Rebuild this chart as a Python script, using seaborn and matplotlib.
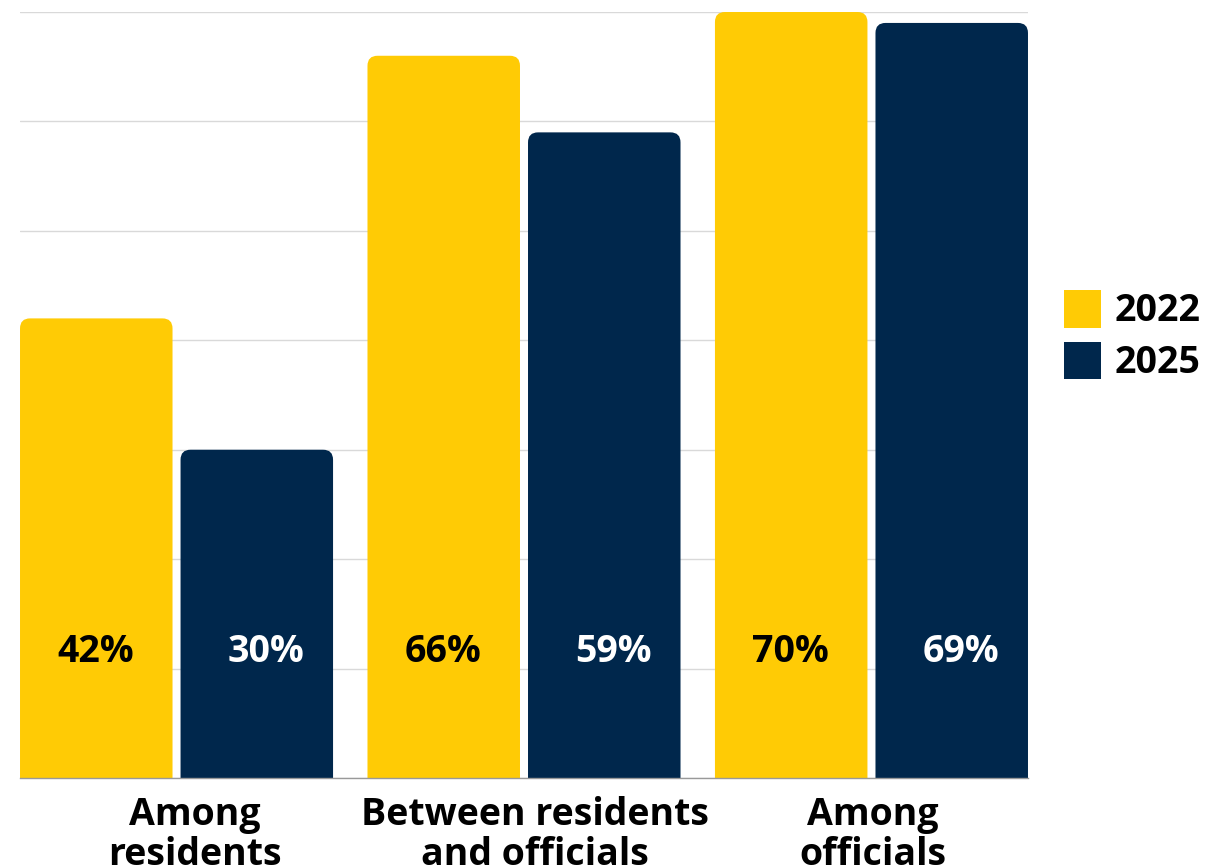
import matplotlib
matplotlib.use("Agg")
import matplotlib.pyplot as plt
import seaborn as sns
import pandas as pd
from matplotlib.patches import FancyBboxPatch, Patch

categories = ["Among\nresidents", "Between residents\nand officials", "Among\nofficials"]
years = ["2022", "2025"]
values_2022 = [42, 66, 70]
values_2025 = [30, 59, 69]
colors = ["#FFCB05", "#00274C"]
label_colors = ["black", "white"]

df = pd.DataFrame({
    "category": categories * 2,
    "year": [years[0]] * 3 + [years[1]] * 3,
    "value": values_2022 + values_2025,
})

sns.set_theme(style="white")
plt.rcParams["font.family"] = ["Open Sans", "DejaVu Sans"]
plt.rcParams["text.color"] = "black"

FS = 27
W, H = 1207, 865
fig = plt.figure(figsize=(W / 100, H / 100), dpi=100)
ax = fig.add_axes([20 / W, 87 / H, 1008 / W, 766 / H])

sns.barplot(data=df, x="category", y="value", hue="year", order=categories,
            hue_order=years, palette=colors, saturation=1, width=0.924, gap=0.05,
            legend=False, ax=ax, zorder=2)

ax.set_xlim(-0.4505, 2.4505)
ax.set_ylim(0, 70)
ax.set_yticks(range(0, 71, 10))
ax.set_yticklabels([])
ax.tick_params(axis="y", length=0)
ax.tick_params(axis="x", length=0, pad=13)
ax.grid(axis="y", color="#d9d9d9", linewidth=1)
ax.set_axisbelow(True)
for s in ["left", "right", "top"]:
    ax.spines[s].set_visible(False)
ax.spines["bottom"].set_color("#999999")
ax.spines["bottom"].set_linewidth(1)
ax.set_xlabel("")
ax.set_ylabel("")

xr = ax.get_xlim()[1] - ax.get_xlim()[0]
yr = ax.get_ylim()[1] - ax.get_ylim()[0]
px_x = 1008 / xr
px_y = 766 / yr

# category labels sit slightly right of the group centres in the reference
tick_shift_px = [18.5, 11, 1.5]
ax.set_xticks([i + s / px_x for i, s in enumerate(tick_shift_px)])
ax.set_xticklabels(categories)
for t in ax.get_xticklabels():
    t.set_fontsize(FS)
    t.set_fontweight("bold")
    t.set_linespacing(1.05)
    t.set_color("black")

# rounded top corners
r_px = 10
r = r_px / px_x
asp = (r_px / px_y) / r
label_shift = [-0.5 / px_x, 9 / px_x]

for ci, cont in enumerate(ax.containers):
    vals = df[df["year"] == years[ci]]["value"].tolist()
    for p, v in zip(cont.patches, vals):
        x, w, h = p.get_x(), p.get_width(), p.get_height()
        p.set_visible(False)
        fb = FancyBboxPatch((x, -3), w, h + 3,
                            boxstyle=f"round,pad=0,rounding_size={r}",
                            mutation_aspect=asp, fc=colors[ci], ec="none", zorder=2)
        ax.add_patch(fb)
        ax.text(x + w / 2 + label_shift[ci], 11.55, f"{v}%", ha="center", va="center",
                fontsize=FS, fontweight="bold", color=label_colors[ci], zorder=3)

handles = [Patch(fc=c, ec="none") for c in colors]
fig.legend(handles, years, loc="center left", bbox_to_anchor=(1060 / W, 1 - 336 / H),
           frameon=False, prop={"size": FS, "weight": "bold"},
           handlelength=1.0, handleheight=1.17, handletextpad=0.35,
           labelspacing=0.3, borderaxespad=0, borderpad=0.1)

fig.savefig("out.png", dpi=100)
